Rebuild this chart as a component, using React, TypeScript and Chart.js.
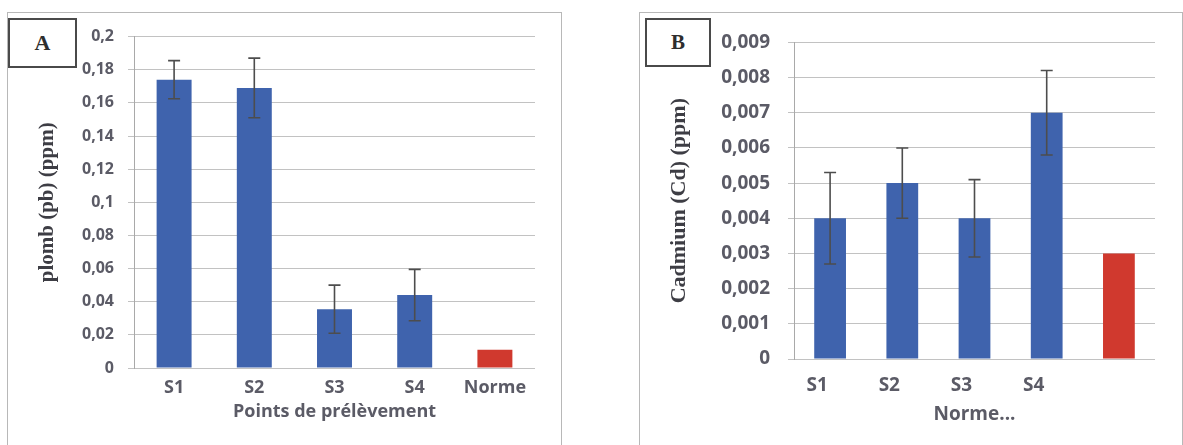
import React, { useEffect, useRef } from 'react';
import { Chart, registerables } from 'chart.js';

Chart.register(...registerables);

// ---------- Data: panel A (plomb) ----------
const categoriesA = ['S1', 'S2', 'S3', 'S4', 'Norme'];
const valuesA = [0.174, 0.169, 0.0355, 0.044, 0.011];
const errorsA = [0.0115, 0.018, 0.0145, 0.0155, 0];
const yTickValuesA = [0, 0.02, 0.04, 0.06, 0.08, 0.1, 0.12, 0.14, 0.16, 0.18, 0.2];
const yTickLabelsA = ['0', '0,02', '0,04', '0,06', '0,08', '0,1', '0,12', '0,14', '0,16', '0,18', '0,2'];
const yTitleA = 'plomb (pb) (ppm)';
const xTitleA = 'Points de prélèvement';

// ---------- Data: panel B (cadmium) ----------
const categoriesB = ['S1', 'S2', 'S3', 'S4', ''];
const valuesB = [0.004, 0.005, 0.004, 0.007, 0.003];
const errorsB = [0.0013, 0.001, 0.0011, 0.0012, 0];
const yTickValuesB = [0, 0.001, 0.002, 0.003, 0.004, 0.005, 0.006, 0.007, 0.008, 0.009];
const yTickLabelsB = ['0', '0,001', '0,002', '0,003', '0,004', '0,005', '0,006', '0,007', '0,008', '0,009'];
const yTitleB = 'Cadmium (Cd) (ppm)';
const xTitleB = 'Norme...';

const BLUE = '#3f63ad';
const RED = '#d0392e';
const barColors = [BLUE, BLUE, BLUE, BLUE, RED];

const errorBarPlugin = {
  id: 'errorBars',
  afterDatasetsDraw(chart: any, _args: any, opts: any) {
    const errs: number[] = opts && opts.errors;
    if (!errs) return;
    const meta = chart.getDatasetMeta(0);
    const yScale = chart.scales.y;
    const data = chart.data.datasets[0].data as number[];
    const ctx = chart.ctx;
    const cap = opts.cap || 6;
    ctx.save();
    ctx.strokeStyle = opts.color || '#444';
    ctx.lineWidth = opts.width || 1.5;
    meta.data.forEach((bar: any, i: number) => {
      const e = errs[i];
      if (!e) return;
      const v = data[i];
      const x = bar.x;
      const yTop = yScale.getPixelForValue(v + e);
      const yBot = yScale.getPixelForValue(v - e);
      ctx.beginPath();
      ctx.moveTo(x, yTop);
      ctx.lineTo(x, yBot);
      ctx.moveTo(x - cap, yTop);
      ctx.lineTo(x + cap, yTop);
      ctx.moveTo(x - cap, yBot);
      ctx.lineTo(x + cap, yBot);
      ctx.stroke();
    });
    ctx.restore();
  },
};

type PanelProps = {
  left: number;
  top: number;
  width: number;
  height: number;
  categories: string[];
  values: number[];
  errors: number[];
  tickValues: number[];
  tickLabels: string[];
  yTitle: string;
  xTitle: string;
  yMax: number;
  yAxisWidth: number;
  xAxisHeight: number;
  padTop: number;
  padRight: number;
  tickFont: number;
  xFont: number;
  yTitleFont: number;
  yTitlePad: number;
  xTickPad: number;
  xTitlePad: number;
  yTickPad: number;
  barPct: number;
  labelOffset: number;
};

function BarPanel(p: PanelProps) {
  const ref = useRef<HTMLCanvasElement | null>(null);
  useEffect(() => {
    if (!ref.current) return;
    const chart = new Chart(ref.current, {
      type: 'bar',
      data: {
        labels: p.categories,
        datasets: [
          {
            data: p.values,
            backgroundColor: barColors,
            borderWidth: 0,
            barPercentage: p.barPct,
            categoryPercentage: 1,
          },
        ],
      },
      plugins: [errorBarPlugin as any],
      options: {
        animation: false,
        responsive: false,
        devicePixelRatio: 1,
        layout: { padding: { top: p.padTop, right: p.padRight, left: 0, bottom: 0 } },
        plugins: {
          legend: { display: false },
          tooltip: { enabled: false },
          errorBars: { errors: p.errors, color: '#4d4d4d', width: 1.6, cap: 6 },
        } as any,
        scales: {
          x: {
            type: 'category',
            grid: { display: false },
            border: { display: false },
            ticks: {
              color: '#5b5b66',
              font: { family: '"Open Sans", sans-serif', size: p.xFont, weight: 'bold' },
              padding: p.xTickPad,
              labelOffset: p.labelOffset,
              maxRotation: 0,
              autoSkip: false,
            },
            title: {
              display: true,
              text: p.xTitle,
              color: '#5b5b66',
              font: { family: '"Open Sans", sans-serif', size: p.xFont, weight: 'bold' },
              padding: { top: 0, bottom: p.xTitlePad },
            },
            afterFit: (s: any) => {
              s.height = p.xAxisHeight;
            },
          },
          y: {
            min: 0,
            max: p.yMax,
            grid: { color: '#c2c2c2', lineWidth: 1, drawTicks: true, tickLength: 6 },
            border: { display: true, color: '#a9a9a9', width: 1 },
            afterBuildTicks: (s: any) => {
              s.ticks = p.tickValues.map((v) => ({ value: v }));
            },
            ticks: {
              color: '#5b5b66',
              font: { family: '"Open Sans", sans-serif', size: p.tickFont, weight: 'bold' },
              padding: p.yTickPad,
              callback: (_v: any, i: number) => p.tickLabels[i],
            },
            title: {
              display: true,
              text: p.yTitle,
              color: '#3d3d44',
              font: { family: '"Liberation Serif", serif', size: p.yTitleFont, weight: 'bold' },
              padding: { top: p.yTitlePad, bottom: 0 },
            },
            afterFit: (s: any) => {
              s.width = p.yAxisWidth;
            },
          },
        },
      } as any,
    });
    return () => chart.destroy();
  }, []);
  return (
    <canvas
      ref={ref}
      width={p.width}
      height={p.height}
      style={{ position: 'absolute', left: p.left, top: p.top, width: p.width, height: p.height }}
    />
  );
}

const boxStyle = (left: number, top: number, w: number, h: number, size: number): React.CSSProperties => ({
  position: 'absolute',
  left,
  top,
  width: w,
  height: h,
  boxSizing: 'border-box',
  border: '2px solid #4a4a4a',
  background: '#fff',
  display: 'flex',
  alignItems: 'center',
  justifyContent: 'center',
  fontFamily: '"Liberation Serif", serif',
  fontWeight: 'bold',
  fontSize: size,
  color: '#2e2e2e',
  zIndex: 2,
});

export default function App() {
  return (
    <div
      style={{
        position: 'fixed',
        left: 0,
        top: 0,
        width: 1183,
        height: 445,
        background: '#fff',
        overflow: 'hidden',
      }}
    >
      <div
        style={{
          position: 'absolute',
          left: 7,
          top: 12,
          width: 555,
          height: 445,
          boxSizing: 'border-box',
          border: '1px solid #b8b8b8',
        }}
      />
      <div
        style={{
          position: 'absolute',
          left: 639,
          top: 12,
          width: 544,
          height: 445,
          boxSizing: 'border-box',
          border: '1px solid #b8b8b8',
        }}
      />
      <BarPanel
        left={8}
        top={13}
        width={552}
        height={430}
        categories={categoriesA}
        values={valuesA}
        errors={errorsA}
        tickValues={yTickValuesA}
        tickLabels={yTickLabelsA}
        yTitle={yTitleA}
        xTitle={xTitleA}
        yMax={0.2}
        yAxisWidth={126}
        xAxisHeight={75}
        padTop={21}
        padRight={25}
        tickFont={16}
        xFont={18}
        yTitleFont={21}
        yTitlePad={27}
        xTickPad={1}
        xTitlePad={20}
        yTickPad={14}
        barPct={0.436}
        labelOffset={0}
      />
      <BarPanel
        left={640}
        top={13}
        width={543}
        height={430}
        categories={categoriesB}
        values={valuesB}
        errors={errorsB}
        tickValues={yTickValuesB}
        tickLabels={yTickLabelsB}
        yTitle={yTitleB}
        xTitle={xTitleB}
        yMax={0.009}
        yAxisWidth={154}
        xAxisHeight={84}
        padTop={24}
        padRight={28}
        tickFont={19}
        xFont={19}
        yTitleFont={22}
        yTitlePad={26}
        xTickPad={7}
        xTitlePad={17}
        yTickPad={18}
        barPct={0.44}
        labelOffset={-13}
      />
      <div style={boxStyle(8, 18, 69, 50, 22)}>A</div>
      <div style={boxStyle(645, 18, 66, 49, 21)}>B</div>
    </div>
  );
}
